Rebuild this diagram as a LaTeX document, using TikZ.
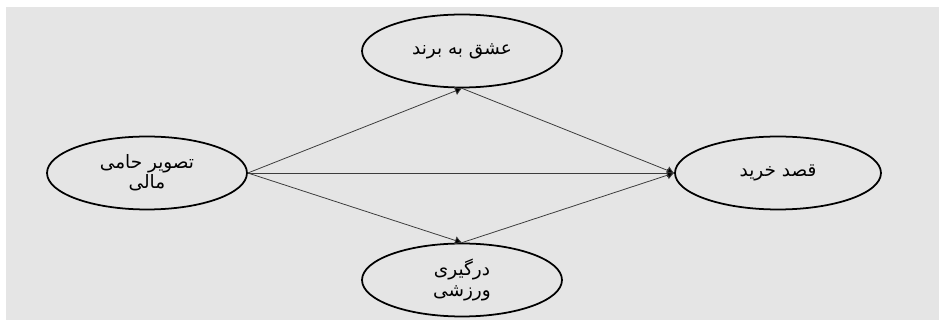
\documentclass[tikz,border=0pt]{standalone}
\usepackage{fontspec}
\newfontfamily\arabicfont[Script=Arabic]{DejaVu Sans}
\TeXXeTstate=1
\usetikzlibrary{shapes.geometric,arrows.meta}
\definecolor{fond}{RGB}{229,229,229}
\definecolor{trait}{RGB}{60,60,60}
\tikzset{
  var/.style={ellipse,draw=black,line width=1pt,fill=fond,minimum width=4cm,minimum height=1.46cm,inner sep=0pt,align=center,font=\arabicfont\fontsize{10.5}{11.5}\selectfont},
  lien/.style={draw=trait,line width=0.45pt,-{Latex[length=4pt,width=5pt,fill=black]}}
}

\begin{document}
\begin{tikzpicture}[x=0.02cm,y=-0.02cm]
\fill[white] (0,0) rectangle (941,320);
\fill[fond] (6,7) rectangle (939,320);

\node[var] (sponsor) at (147,173) {\beginR تصویر حامی\endR\\\beginR مالی\endR};
\node[var] (amour) at (462,51) {\beginR عشق به برند\endR};
\node[var] (implic) at (462,280) {\beginR درگیری\endR\\\beginR ورزشی\endR};
\node[var,minimum width=4.12cm] (achat) at (778,173) {\beginR قصد خرید\endR};

\draw[lien] (sponsor.east) -- (amour.south);
\draw[lien] (sponsor.east) -- (implic.north);
\draw[lien] (sponsor.east) -- (achat.west);
\draw[lien] (amour.south) -- (achat.west);
\draw[lien] (implic.north) -- (achat.west);
\end{tikzpicture}
\end{document}
